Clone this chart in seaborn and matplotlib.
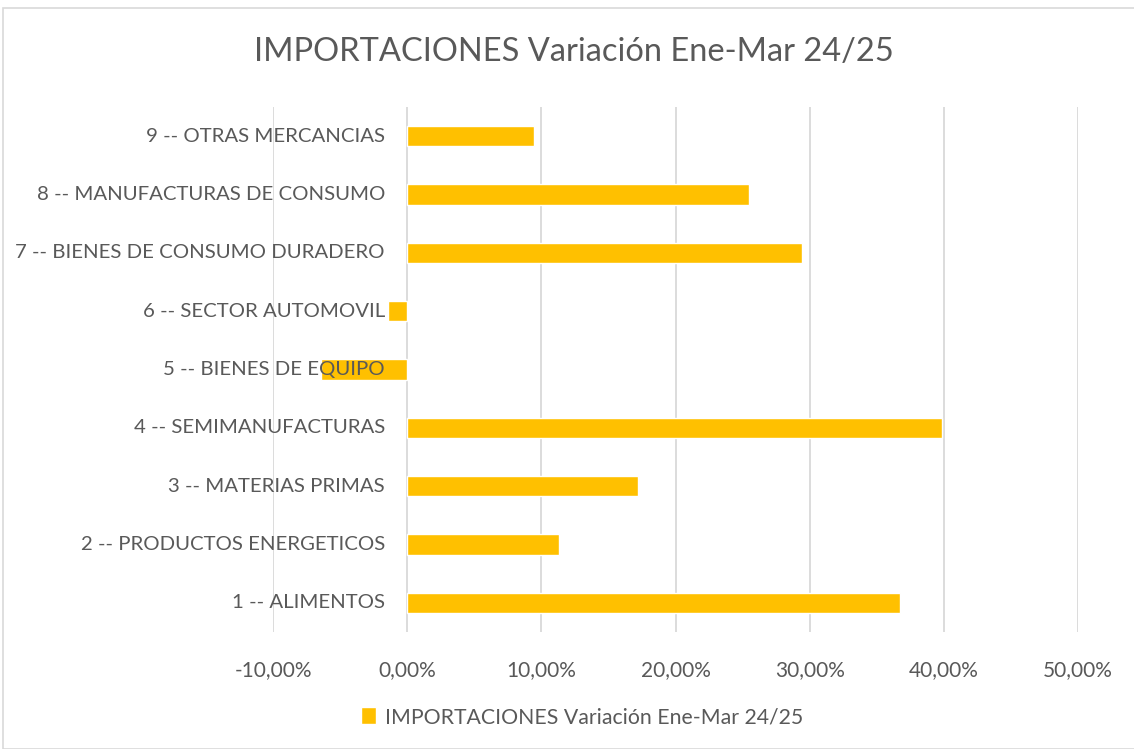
import numpy as np
import pandas as pd
import matplotlib.pyplot as plt
import seaborn as sns
from matplotlib.patches import Rectangle, Patch
from matplotlib.ticker import FuncFormatter

# data (top to bottom)
categories = [
    "9 -- OTRAS MERCANCIAS",
    "8 -- MANUFACTURAS DE CONSUMO",
    "7 -- BIENES DE CONSUMO DURADERO",
    "6 -- SECTOR AUTOMOVIL",
    "5 -- BIENES DE EQUIPO",
    "4 -- SEMIMANUFACTURAS",
    "3 -- MATERIAS PRIMAS",
    "2 -- PRODUCTOS ENERGETICOS",
    "1 -- ALIMENTOS",
]
variacion = [0.0946, 0.255, 0.294, -0.0146, -0.064, 0.399, 0.172, 0.113, 0.367]
series_name = "IMPORTACIONES Variación Ene-Mar 24/25"
x_ticks = [-0.10, 0.0, 0.10, 0.20, 0.30, 0.40, 0.50]

df = pd.DataFrame({"categoria": categories, "variacion": variacion})

sns.set_theme(style="white")
plt.rcParams['font.family'] = ['Lato', 'DejaVu Sans']
TXT = '#595959'
BAR = '#FFC000'

fig = plt.figure(figsize=(11.34, 7.49), dpi=100)
ax = fig.add_axes([273 / 1134, 1 - 632 / 749, (1078 - 273) / 1134, (632 - 107) / 749])

sns.barplot(data=df, x="variacion", y="categoria", order=categories,
            color=BAR, saturation=1, width=0.35, ax=ax)

ax.set_xlim(x_ticks[0], x_ticks[-1])
ax.set_ylim(len(categories) - 0.5, -0.5)
ax.set_xticks(x_ticks)
ax.xaxis.set_major_formatter(FuncFormatter(lambda v, p: f"{v * 100:.2f}%".replace('.', ',')))
ax.tick_params(axis='x', length=0, pad=20, labelsize=15, labelcolor=TXT)
ax.set_yticks([])
ax.set_xlabel("")
ax.set_ylabel("")
ax.grid(axis='x', color='#D9D9D9', linewidth=1.3)
ax.set_axisbelow(True)
for s in ax.spines.values():
    s.set_visible(False)

# category labels sit next to the zero line, Excel style, drawn over the bars
for i, lab in enumerate(categories):
    ax.annotate(lab, xy=(0, i), xytext=(-16, 0), textcoords='offset points',
                ha='right', va='center', fontsize=14.7, color=TXT, zorder=5)

fig.text(574 / 1134, 1 - 52 / 749, series_name, ha='center', va='center',
         fontsize=23.5, color=TXT)

fig.legend(handles=[Patch(facecolor=BAR, label=series_name)], loc='center',
           bbox_to_anchor=(582 / 1134, 1 - 717 / 749), frameon=False, fontsize=15.3,
           labelcolor=TXT, handlelength=0.7, handleheight=0.85, handletextpad=0.4)

# chart border
fig.patches.append(Rectangle((3 / 1134, 0.0), 1.1, 1 - 8 / 749, transform=fig.transFigure,
                             fill=False, edgecolor='#D9D9D9', linewidth=1.2))

fig.savefig("out.png", dpi=100)
